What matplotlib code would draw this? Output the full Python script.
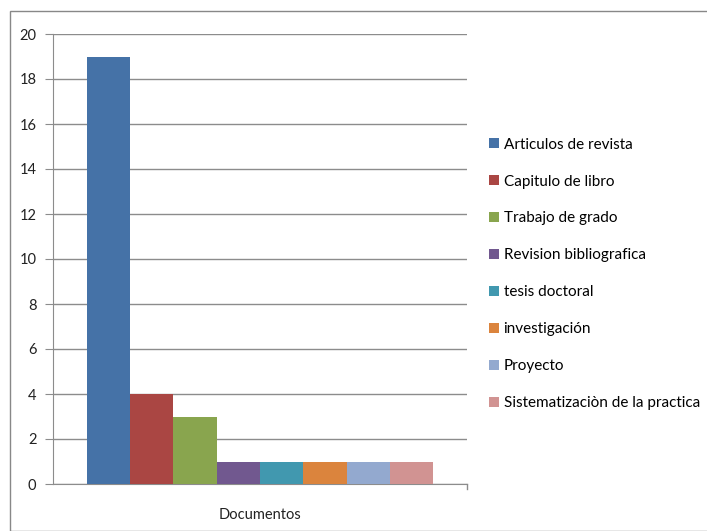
import matplotlib.pyplot as plt
from matplotlib.patches import Rectangle

series = ['Articulos de revista', 'Capitulo de libro', 'Trabajo de grado',
          'Revision bibliografica', 'tesis doctoral', 'investigación',
          'Proyecto', 'Sistematizaciòn de la practica']
values = [19, 4, 3, 1, 1, 1, 1, 1]
colors = ['#4572A7', '#AA4643', '#89A54E', '#71588F', '#4198AF',
          '#DB843D', '#93A9CF', '#D19392']
category = 'Documentos'
yticks = list(range(0, 21, 2))


def main():
    plt.rcParams['font.family'] = ['Lato', 'DejaVu Sans']
    fig = plt.figure(figsize=(7.07, 5.31), dpi=100)
    fig.patches.append(Rectangle((10 / 707, 0), 1, 1 - 11 / 531, transform=fig.transFigure,
                                 fill=False, edgecolor='#888888', linewidth=1))
    ax = fig.add_axes([53 / 707, 47 / 531, 414 / 707, 450 / 531])

    group = 0.838
    w = group / len(values)
    for i, (name, v, c) in enumerate(zip(series, values, colors)):
        x = -group / 2 + w * (i + 0.5)
        ax.bar(x, v, width=w, color=c, label=name, zorder=3)

    ax.set_xlim(-0.5, 0.5)
    ax.set_ylim(0, 20)
    ax.set_yticks(yticks)
    ax.yaxis.grid(True, color='#8c8c8c', linewidth=1, zorder=0)
    ax.set_xticks([0])
    ax.set_xticklabels([category])
    ax.tick_params(axis='x', length=0, pad=17, labelsize=10.5, colors='#222222')
    ax.tick_params(axis='y', length=6, color='#8c8c8c', labelsize=10.5, labelcolor='#222222', pad=6)
    for s in ['top', 'right']:
        ax.spines[s].set_visible(False)
    ax.spines['left'].set_color('#8c8c8c')
    ax.spines['bottom'].set_color('#8c8c8c')
    ax.plot([1, 1], [0, -0.012], transform=ax.transAxes, color='#8c8c8c',
            linewidth=1, clip_on=False)

    ax.legend(loc='center left', bbox_to_anchor=(1.02, 0.467), frameon=False,
              handlelength=0.65, handleheight=0.65, handletextpad=0.3,
              labelspacing=1.5, fontsize=11)

    fig.savefig('out.png', dpi=100)


if __name__ == '__main__':
    main()
